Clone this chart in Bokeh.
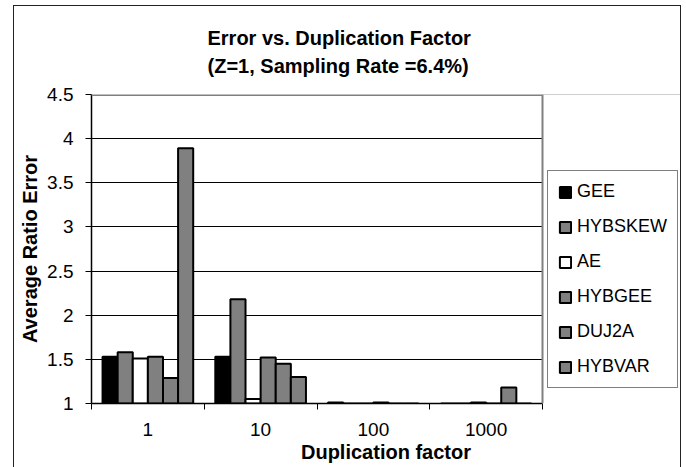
from bokeh.plotting import figure
from bokeh.models import (ColumnDataSource, FixedTicker, Legend, LegendItem, Title, Range1d,
                          BoxAnnotation, Span)
from bokeh.transform import dodge
from bokeh.embed import file_html
from bokeh.resources import INLINE

# ---- data ----
categories = ["1", "10", "100", "1000"]
series_names = ["GEE", "HYBSKEW", "AE", "HYBGEE", "DUJ2A", "HYBVAR"]
GEE = [1.53, 1.53, 1.01, 1.00]
HYBSKEW = [1.58, 2.18, 1.00, 1.00]
AE = [1.51, 1.05, 1.00, 1.01]
HYBGEE = [1.53, 1.52, 1.01, 1.00]
DUJ2A = [1.29, 1.45, 1.00, 1.18]
HYBVAR = [3.89, 1.30, 1.00, 1.00]
y_ticks = [1, 1.5, 2, 2.5, 3, 3.5, 4, 4.5]
y_tick_labels = ["1", "1.5", "2", "2.5", "3", "3.5", "4", "4.5"]
series_colors = ["#000000", "#808080", "#ffffff", "#808080", "#808080", "#808080"]
title_lines = ["Error vs. Duplication Factor", "(Z=1, Sampling Rate =6.4%)"]

FONT = "Liberation Sans"
N = len(categories)

x_pos = [i + 0.5 for i in range(N)]
src = ColumnDataSource(dict(x=x_pos, GEE=GEE, HYBSKEW=HYBSKEW, AE=AE,
                            HYBGEE=HYBGEE, DUJ2A=DUJ2A, HYBVAR=HYBVAR))

# figure placed at page (14, 6); plot area on page: x 91..542, y 94..403
OX, OY = 14, 6
W, H = 680 - OX, 467 - OY
FL, FT, FB = 91 - OX, 94 - OY, 403 - OY
PLOT_W = 542 - 91
FRAME_W = W - FL
x_end = N * FRAME_W / PLOT_W   # frame also holds the legend area to the right

p = figure(width=W, height=H, output_backend="svg", toolbar_location=None,
           x_range=Range1d(0, x_end), y_range=Range1d(1, 4.5),
           min_border_left=FL, min_border_right=0,
           min_border_top=FT, min_border_bottom=H - FB)
p.margin = (OY, 0, 0, OX)
p.styles = {"outline": "1.5px solid #222222"}
p.background_fill_color = "white"
p.border_fill_color = "white"
p.outline_line_color = None

bw = 0.134
renderers = []
for k, name in enumerate(series_names):
    off = (k - (len(series_names) - 1) / 2) * bw
    r = p.vbar(x=dodge("x", off, range=p.x_range), top=name, bottom=0, width=bw,
               source=src, fill_color=series_colors[k], line_color="black",
               line_width=2)
    renderers.append(r)

# y axis
p.yaxis.ticker = FixedTicker(ticks=y_ticks)
p.yaxis.major_label_overrides = {float(t): l for t, l in zip(y_ticks, y_tick_labels)}
p.yaxis.axis_line_color = "black"
p.yaxis.axis_line_width = 1.5
p.yaxis.major_tick_out = 6
p.yaxis.major_tick_in = 0
p.yaxis.minor_tick_line_color = None
p.yaxis.major_label_standoff = 12
p.yaxis.major_label_text_font = FONT
p.yaxis.major_label_text_font_size = "19px"
p.yaxis.major_label_text_color = "black"
p.yaxis.axis_label = "Average Ratio Error"
p.yaxis.axis_label_text_font = FONT
p.yaxis.axis_label_text_font_size = "20px"
p.yaxis.axis_label_text_font_style = "bold"
p.yaxis.axis_label_text_color = "black"
p.yaxis.axis_label_standoff = 3

# x axis: labels at group centers, ticks at group boundaries
p.xaxis.ticker = FixedTicker(ticks=x_pos, minor_ticks=list(range(N + 1)))
p.xaxis.bounds = (0, N)
p.xaxis.major_label_overrides = {float(x): c for x, c in zip(x_pos, categories)}
p.xaxis.axis_line_color = "black"
p.xaxis.axis_line_width = 1.5
p.xaxis.major_tick_out = 0
p.xaxis.major_tick_in = 0
p.xaxis.minor_tick_out = 6
p.xaxis.minor_tick_in = 0
p.xaxis.minor_tick_line_color = "black"
p.xaxis.major_label_standoff = 13
p.xaxis.major_label_text_font = FONT
p.xaxis.major_label_text_font_size = "19px"
p.xaxis.major_label_text_color = "black"
p.xaxis.axis_label = "Duplication factor"
p.xaxis.axis_label_text_font = FONT
p.xaxis.axis_label_text_font_size = "20px"
p.xaxis.axis_label_text_font_style = "bold"
p.xaxis.axis_label_text_color = "black"
p.xaxis.axis_label_standoff = 2

p.xgrid.visible = False
p.ygrid.ticker = FixedTicker(ticks=y_ticks[1:-1])
p.ygrid.grid_line_color = "black"
p.ygrid.grid_line_width = 1

# plot-area border (gray, top and right), blank area for the legend
p.add_layout(Span(location=4.5, dimension="width", line_color="#808080", line_width=3))
p.add_layout(BoxAnnotation(left=N, fill_color="white", fill_alpha=1, line_alpha=0))
p.add_layout(Span(location=N, dimension="height", line_color="#808080", line_width=2))

# two-line title
p.add_layout(Title(text="\n".join(title_lines), align="left", offset=116,
                   text_font=FONT, text_font_size="20px", text_font_style="bold",
                   text_color="black", text_line_height=1.28, standoff=34), "above")

legend = Legend(items=[LegendItem(label=n, renderers=[r]) for n, r in zip(series_names, renderers)],
                location=(547 - 91, 403 - 388), orientation="vertical")
legend.label_text_font = FONT
legend.label_text_font_size = "18px"
legend.label_text_color = "black"
legend.glyph_width = 14
legend.glyph_height = 14
legend.label_standoff = 5
legend.spacing = 14
legend.padding = 10
legend.margin = 0
legend.border_line_color = "black"
legend.border_line_width = 1
legend.background_fill_color = "white"
legend.background_fill_alpha = 1
p.add_layout(legend, "center")

open("out.html", "w").write(file_html(p, INLINE))
